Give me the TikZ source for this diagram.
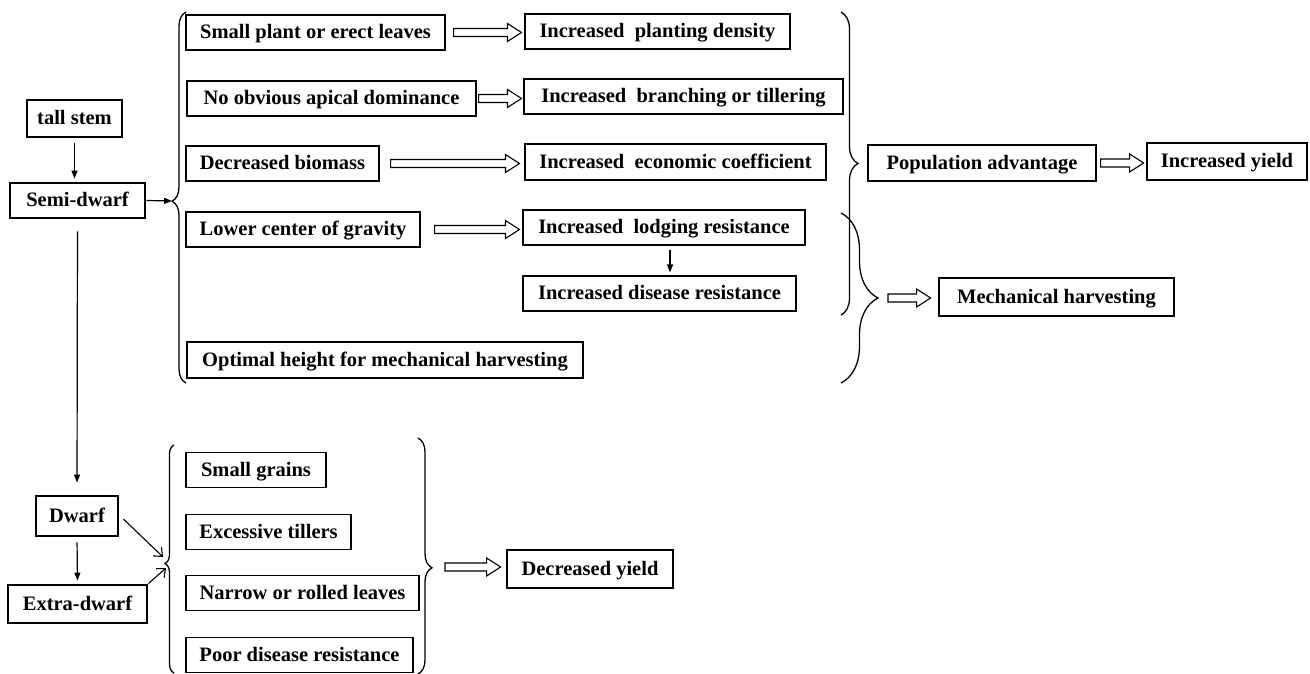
\documentclass[tikz,border=0pt]{standalone}
\usepackage{fontspec}
\setmainfont{Liberation Serif}
\usetikzlibrary{calc,decorations.pathreplacing,arrows.meta}
\newcommand\hollowarr[4]{%
  \draw[hol] let \p1=($#1+(#3,0)$), \p2=($#2-(#4,0)$) in
  (\x1,\y1+4pt) -- (\x2-14pt,\y1+4pt) -- (\x2-14pt,\y1+9pt) -- (\x2,\y1)
  -- (\x2-14pt,\y1-9pt) -- (\x2-14pt,\y1-4pt) -- (\x1,\y1-4pt) -- cycle;}
\tikzset{
  bx/.style={draw, line width=1.1pt, inner sep=0pt, text height=15pt, text depth=2.5pt,
    font=\fontsize{20.5}{24}\selectfont\bfseries},
  tbx/.style={bx, line width=2.8pt},
  arr/.style={line width=1.2pt, -{Triangle[length=8pt,width=6pt]}},
  varr/.style={line width=1.1pt, -{Straight Barb[length=7pt,width=12pt]}},
  brc/.style={line width=1.3pt, decorate},
  hol/.style={line width=1.1pt},
}
\begin{document}
\begin{tikzpicture}[x=1pt,y=-1pt]
\useasboundingbox (0,0) rectangle (1310,674);
% left column
\node[tbx, minimum width=95pt, minimum height=37pt] (tall) at (74.5,118.5) {tall stem};
\node[tbx, minimum width=135pt, minimum height=35pt] (semi) at (77.5,200.5) {Semi-dwarf};
\node[tbx, minimum width=82pt, minimum height=40pt] (dwarf) at (77,516) {Dwarf};
\node[tbx, minimum width=139pt, minimum height=38pt] (xdwarf) at (77.5,604) {Extra-dwarf};
% upper traits
\node[bx, minimum width=259pt, minimum height=35pt] (sp) at (315.5,32.5) {Small plant or erect leaves};
\node[bx, minimum width=265pt, minimum height=35pt] (ipd) at (657.5,31.5) {Increased\ \ planting density};
\node[bx, minimum width=289pt, minimum height=35pt] (noa) at (331.5,98.5) {No obvious apical dominance};
\node[bx, minimum width=319pt, minimum height=35pt] (ibt) at (683.5,96.5) {Increased\ \ branching or tillering};
\node[bx, minimum width=193pt, minimum height=35pt] (db) at (282.5,163.5) {Decreased biomass};
\node[bx, minimum width=301pt, minimum height=36pt] (iec) at (675.5,162) {Increased\ \ economic coefficient};
\node[bx, minimum width=234pt, minimum height=35pt] (lcg) at (303,229.5) {Lower center of gravity};
\node[bx, minimum width=282pt, minimum height=35pt] (ilr) at (664,227.5) {Increased\ \ lodging resistance};
\node[bx, minimum width=273pt, minimum height=35pt] (idr) at (659.5,293.5) {Increased disease resistance};
\node[bx, minimum width=396pt, minimum height=36pt] (oh) at (385,360) {Optimal height for mechanical harvesting};
\node[bx, minimum width=228pt, minimum height=36pt] (pa) at (982,163) {Population advantage};
\node[tbx, minimum width=160pt, minimum height=37pt] (iy) at (1227,161.5) {Increased yield};
\node[tbx, minimum width=235pt, minimum height=38pt] (mh) at (1056.5,297) {Mechanical harvesting};
% lower traits
\node[bx, minimum width=140pt, minimum height=35pt] (sg) at (256,470) {Small grains};
\node[bx, minimum width=165pt, minimum height=35pt] (et) at (268.5,532) {Excessive tillers};
\node[bx, minimum width=233pt, minimum height=35pt] (nr) at (302.5,593) {Narrow or rolled leaves};
\node[bx, minimum width=227pt, minimum height=35pt] (pd) at (299.5,655) {Poor disease resistance};
\node[tbx, minimum width=166pt, minimum height=38pt] (dy) at (590,569) {Decreased yield};
% braces
\draw[brc, decoration={brace, amplitude=14pt, aspect=0.49}] (186,383) -- (186,12);
\draw[brc, decoration={brace, amplitude=17pt, aspect=0.5}] (841,12) -- (841,315);
\draw[brc, decoration={brace, amplitude=37pt, aspect=0.5}] (841,213) -- (841,383);
\draw[brc, decoration={brace, amplitude=9pt, aspect=0.48}] (174,673) -- (174,445);
\draw[brc, decoration={brace, amplitude=14pt, aspect=0.55}] (418,438) -- (418,674);
\coordinate (b1tip) at (172,201);
\coordinate (b4tip) at (878,298);
\coordinate (b6tip) at (432,567);
\coordinate (lb1) at (163,557);
\coordinate (lb2) at (166,568);
% plain arrows
\draw[arr, shorten <=5pt, shorten >=3pt] (tall.south) -- (tall.south |- semi.north);
\draw[arr] (semi.east) -- (b1tip);
\draw[arr, shorten <=12pt, shorten >=12pt] (semi.south) -- (dwarf.north);
\draw[arr, shorten <=5pt, shorten >=3pt] (dwarf.south) -- (xdwarf.north);
\draw[arr, shorten <=4pt, shorten >=3pt] ([xshift=6pt]ilr.south) -- ([xshift=6pt]ilr.south |- idr.north);
\draw[varr] ([shift={(4pt,-3pt)}]dwarf.east) -- (lb1);
\draw[varr] (xdwarf.north east) -- (lb2);
% hollow arrows
\hollowarr{(sp.east)}{(ipd.west)}{8}{3}
\hollowarr{(noa.east)}{(ibt.west)}{2}{2}
\hollowarr{(db.east)}{(iec.west)}{11}{5}
\hollowarr{(lcg.east)}{(ilr.west)}{14}{3}
\hollowarr{(pa.east)}{(iy.west)}{4}{2}
\hollowarr{(b4tip)}{(mh.west)}{10}{7}
\hollowarr{(b6tip)}{(dy.west)}{13}{5}
\end{tikzpicture}
\end{document}
